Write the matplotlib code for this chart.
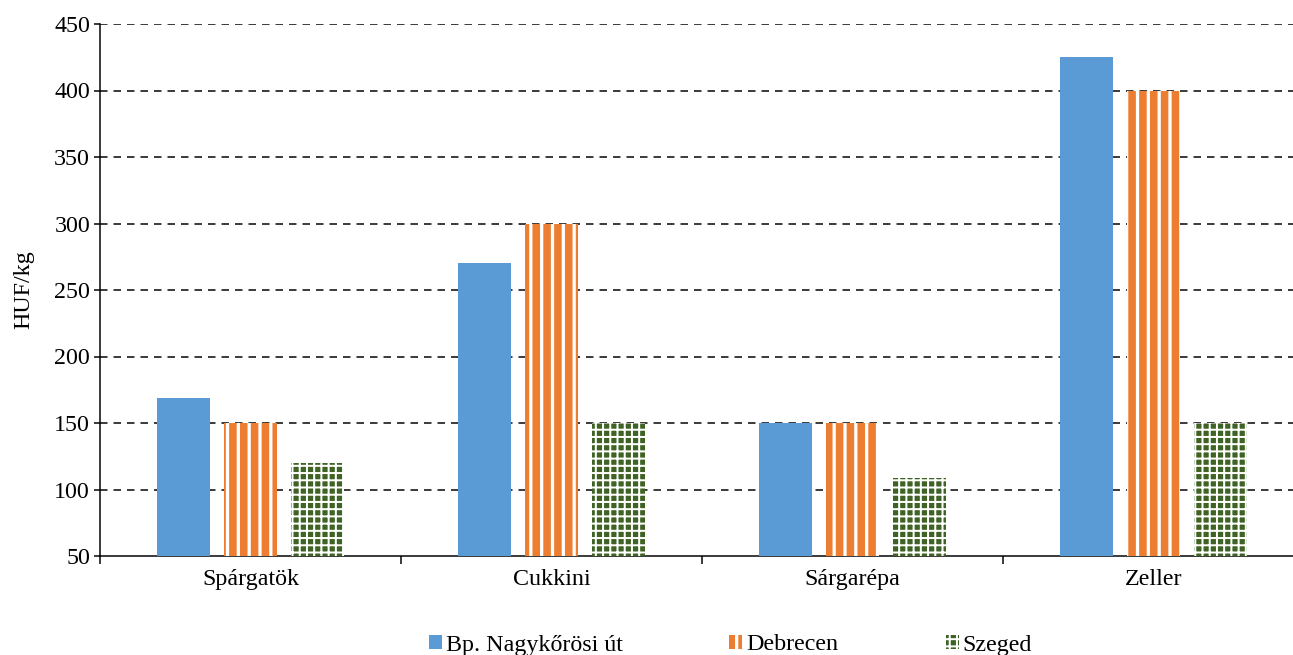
import matplotlib
matplotlib.use("Agg")
import matplotlib.pyplot as plt
import numpy as np

categories = ["Spárgatök", "Cukkini", "Sárgarépa", "Zeller"]
series_names = ["Bp. Nagykőrösi út", "Debrecen", "Szeged"]
bp_values = [169, 270, 150, 425]
debrecen_values = [150, 300, 150, 400]
szeged_values = [120, 150, 109, 150]
y_ticks = [50, 100, 150, 200, 250, 300, 350, 400, 450]

DPI = 130
W, H = 1293, 655
plt.rcParams['font.family'] = ['Liberation Serif', 'DejaVu Serif']
plt.rcParams['hatch.linewidth'] = 4.2
GREEN_HATCH_LW = 1.1

def px2pt(px):
    return px * 72.0 / DPI

fs = px2pt(24)

fig = plt.figure(figsize=(W / DPI, H / DPI), dpi=DPI)
ax = fig.add_axes([100 / W, 1 - 556 / H, 1204 / W, (556 - 24) / H])

x = np.arange(len(categories))
width = 0.176
off = 0.222

b1 = ax.bar(x - off, bp_values, width, color='#5B9BD5', linewidth=0, zorder=3)
b2 = ax.bar(x, debrecen_values, width, facecolor='white', edgecolor='#ED7D31',
            hatch='||', linewidth=0, zorder=3)
b3 = ax.bar(x + off, szeged_values, width, facecolor='#3F6325', edgecolor='white',
            hatch='+++', linewidth=0, zorder=3)
for p in b3.patches:
    if hasattr(p, 'set_hatch_linewidth'):
        p.set_hatch_linewidth(GREEN_HATCH_LW)

ax.set_xlim(-0.5, len(categories) - 0.5)
ax.set_ylim(50, 450)
ax.set_yticks(y_ticks)
ax.set_yticklabels([str(v) for v in y_ticks], fontsize=fs)
for v in y_ticks[1:]:
    ax.axhline(v, color='black', linestyle=(0, (5, 4)), linewidth=px2pt(1.5), zorder=1)

ax.set_xticks(x)
ax.set_xticklabels(categories, fontsize=fs)
ax.set_xticks(np.arange(-0.5, len(categories), 1.0), minor=True)
ax.tick_params(axis='x', which='major', length=0, pad=px2pt(13))
ax.tick_params(axis='x', which='minor', length=px2pt(8), width=px2pt(1.5), direction='out')
ax.tick_params(axis='y', which='major', length=px2pt(6), width=px2pt(1.5), direction='out',
               pad=px2pt(4))

for s in ['top', 'right']:
    ax.spines[s].set_visible(False)
for s in ['left', 'bottom']:
    ax.spines[s].set_linewidth(px2pt(1.5))
    ax.spines[s].set_color('black')

ax.set_ylabel("HUF/kg", fontsize=fs)
ax.yaxis.set_label_coords(-66 / 1204, 0.5)

handles = [b1.patches[0], b2.patches[0], b3.patches[0]]
starts = [429, 729, 946]
for i, (h, name, sx) in enumerate(zip(handles, series_names, starts)):
    leg = fig.legend([h], [name], loc='center left', bbox_to_anchor=(sx / W, 1 - 645 / H),
                     frameon=False, fontsize=fs, handlelength=0.55, handleheight=0.55,
                     handletextpad=0.15, borderpad=0, borderaxespad=0)
    if i == 2:
        for lh in leg.legend_handles:
            if hasattr(lh, 'set_hatch_linewidth'):
                lh.set_hatch_linewidth(GREEN_HATCH_LW)

fig.savefig("out.png", dpi=DPI)
